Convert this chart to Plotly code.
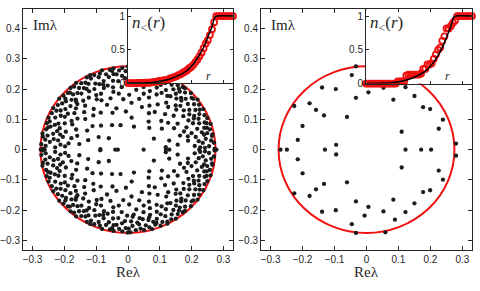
import numpy as np
import plotly.graph_objects as go

# ---------------- data ----------------
circle_radius = 0.275

# left panel: real eigenvalues and lower-half complex eigenvalues (arg in degrees, |lambda|);
# the upper half is the complex-conjugate mirror
left_real_eigs = [-0.274, -0.262, -0.040, -0.032, 0.049, 0.119, 0.130, 0.224, 0.278]
left_lower_arg_deg = [
    180.6,181.9,182.7,183.8,184.4,185.9,186.3,187.2,188.5,189.1,183.1,186.9,181.3,188.0,
    190.4,191.2,192.5,193.1,194.6,195.3,196.8,197.4,198.9,199.5,192.0,195.9,198.2,194.0,196.3,191.6,
    200.7,201.5,202.9,203.6,204.8,205.4,206.7,207.9,208.6,209.7,202.2,206.1,208.1,204.2,
    210.3,211.4,212.1,213.7,214.2,215.6,216.4,217.9,218.5,219.3,212.8,216.9,219.8,214.9,211.9,
    220.5,221.3,222.8,223.4,224.7,225.2,226.6,227.1,228.4,229.6,221.9,224.1,226.0,228.9,225.8,223.0,
    230.8,231.6,232.9,233.5,234.3,235.7,236.2,237.6,238.8,239.4,231.2,234.9,237.0,238.1,
    240.2,241.5,242.1,243.6,244.8,245.3,246.7,247.4,248.9,249.6,242.9,246.0,248.2,244.2,241.0,
    250.6,251.3,252.7,253.2,254.5,255.9,256.4,257.8,258.3,259.7,252.0,255.1,257.1,253.8,259.1,250.1,
    260.4,261.8,262.3,263.9,264.5,265.6,266.2,267.7,268.4,269.3,261.1,264.9,267.0,269.8,
    270.5,271.7,272.4,273.2,274.8,275.3,276.9,277.5,278.6,279.2,271.2,274.1,276.2,278.0,273.8,
    280.8,281.4,282.6,283.3,284.7,285.5,286.1,287.9,288.4,289.6,281.9,285.0,287.3,283.9,289.1,286.6,
    290.3,291.6,292.2,293.8,294.4,295.7,296.3,297.5,298.1,299.4,291.0,294.9,298.7,296.9,
    300.6,301.2,302.7,303.4,304.9,305.6,306.3,307.8,308.5,309.2,302.0,304.1,307.1,305.0,309.8,
    310.4,311.5,312.1,313.6,314.3,315.8,316.6,317.2,318.7,319.5,311.9,314.9,317.9,313.0,316.0,319.0,
    320.7,321.3,322.9,323.5,324.2,325.8,326.4,327.6,328.3,329.7,322.1,325.0,328.9,327.0,
    330.5,331.8,332.4,333.1,334.7,335.3,336.9,337.4,338.2,339.6,331.2,334.0,336.1,338.8,333.6,
    340.6,341.9,342.5,343.3,344.8,345.4,346.2,347.7,348.9,349.3,341.2,344.1,347.0,348.4,343.9,346.8,
    350.3,351.7,352.8,353.4,354.6,355.2,356.7,357.5,358.6,359.4,351.1,354.0,356.0,358.1,
]
left_lower_mod = [
    0.268,0.229,0.259,0.273,0.213,0.247,0.188,0.262,0.236,0.271,0.198,0.154,0.087,0.222,
    0.257,0.274,0.241,0.219,0.266,0.231,0.204,0.255,0.270,0.244,0.182,0.166,0.226,0.129,0.262,0.209,
    0.263,0.235,0.271,0.217,0.252,0.194,0.268,0.239,0.226,0.259,0.176,0.143,0.201,0.101,
    0.272,0.248,0.223,0.265,0.238,0.207,0.257,0.274,0.231,0.252,0.189,0.168,0.213,0.136,0.071,
    0.259,0.270,0.242,0.219,0.266,0.233,0.251,0.198,0.272,0.245,0.185,0.227,0.157,0.214,0.262,0.116,
    0.268,0.236,0.255,0.274,0.211,0.246,0.264,0.228,0.258,0.193,0.172,0.149,0.239,0.095,
    0.250,0.271,0.226,0.262,0.241,0.203,0.268,0.234,0.256,0.217,0.183,0.162,0.131,0.273,0.206,
    0.266,0.239,0.274,0.221,0.258,0.247,0.196,0.269,0.232,0.253,0.178,0.141,0.211,0.084,0.264,0.229,
    0.272,0.251,0.228,0.263,0.207,0.244,0.270,0.236,0.259,0.218,0.187,0.167,0.126,0.274,
    0.261,0.273,0.237,0.252,0.215,0.267,0.243,0.199,0.264,0.229,0.181,0.155,0.106,0.249,0.222,
    0.270,0.234,0.256,0.212,0.265,0.241,0.273,0.226,0.251,0.205,0.171,0.191,0.147,0.078,0.262,0.233,
    0.258,0.246,0.271,0.224,0.262,0.237,0.203,0.268,0.249,0.215,0.184,0.160,0.137,0.274,
    0.267,0.230,0.254,0.273,0.216,0.245,0.264,0.196,0.257,0.238,0.176,0.150,0.221,0.113,0.269,
    0.251,0.270,0.227,0.260,0.239,0.209,0.272,0.247,0.219,0.263,0.189,0.165,0.141,0.098,0.233,0.201,
    0.265,0.241,0.274,0.218,0.256,0.233,0.268,0.206,0.249,0.261,0.182,0.154,0.225,0.127,
    0.272,0.236,0.253,0.213,0.266,0.244,0.222,0.270,0.198,0.257,0.178,0.161,0.089,0.240,0.231,
    0.262,0.273,0.228,0.250,0.207,0.266,0.239,0.255,0.217,0.270,0.186,0.170,0.133,0.244,0.258,0.193,
    0.268,0.247,0.224,0.263,0.236,0.271,0.210,0.255,0.242,0.272,0.191,0.157,0.119,0.227,
]

# right panel: real eigenvalues and lower-half complex eigenvalues (Re, Im)
right_real_eigs = [-0.269, -0.249, -0.130, 0.122, 0.171, 0.202]
right_lower_re = [-0.095, 0.280, -0.215, -0.200, -0.226, -0.178, -0.158, -0.133, -0.139, -0.096,
                  -0.061, -0.033, -0.046, -0.033, -0.006, 0.006, 0.053, 0.059, 0.089, 0.084,
                  0.110, 0.122, 0.150, 0.177, 0.199, 0.226, 0.239]
right_lower_im = [-0.016, -0.020, -0.032, -0.078, -0.144, -0.153, -0.131, -0.113, -0.205, -0.200,
                  -0.108, -0.171, -0.246, -0.275, -0.218, -0.189, -0.204, -0.273, -0.231, -0.165,
                  -0.059, -0.206, -0.177, -0.140, -0.134, -0.069, -0.099]

# theoretical cumulative distribution n_<(r) (black line in insets)
theory_r = [0.0, 0.080, 0.111, 0.132, 0.158, 0.184, 0.205, 0.226, 0.242, 0.252, 0.263, 0.273, 0.279, 0.33]
theory_n = [0.0, 0.010, 0.035, 0.060, 0.110, 0.180, 0.280, 0.430, 0.580, 0.700, 0.830, 0.980, 1.0, 1.0]

# radii at which the empirical n_<(r) is sampled (red markers)
cdf_r_grid = np.linspace(0.0, 0.33, 51)

xticks_main = [-0.3, -0.2, -0.1, 0, 0.1, 0.2, 0.3]
yticks_main = [-0.3, -0.2, -0.1, 0, 0.1, 0.2, 0.3, 0.4]
yticks_inset = [0, 0.5, 1]
xticks_inset = [0.1, 0.2, 0.3]

# ---------------- derived ----------------
mod = np.array(left_lower_mod)
arg = np.deg2rad(np.array(left_lower_arg_deg))
lre_low = mod * np.cos(arg)
lim_low = mod * np.sin(arg)
left_re = np.concatenate([left_real_eigs, lre_low, lre_low])
left_im = np.concatenate([np.zeros(len(left_real_eigs)), lim_low, -lim_low])

rre = np.array(right_lower_re)
rim = np.array(right_lower_im)
right_re = np.concatenate([right_real_eigs, rre, rre])
right_im = np.concatenate([np.zeros(len(right_real_eigs)), rim, -rim])


def empirical_cdf(re, im):
    r = np.abs(np.asarray(re) + 1j * np.asarray(im))
    return np.array([(r < g).mean() for g in cdf_r_grid])


left_cdf = empirical_cdf(left_re, left_im)
right_cdf = empirical_cdf(right_re, right_im)

# ---------------- figure ----------------
W, H = 480, 291
def px_x(p):
    return p / W
def px_y(p):
    return 1 - p / H

INK = '#262626'
DOT = '#1c1c1c'
RED = '#f01010'
tickfont = dict(family='Liberation Sans, Arial, sans-serif', size=10, color=INK)
serif = 'Liberation Serif, Times New Roman, serif'

fig = go.Figure()

fig.add_trace(go.Scatter(x=left_re, y=left_im, mode='markers',
                         marker=dict(size=4.3, color=DOT), xaxis='x', yaxis='y',
                         showlegend=False, hoverinfo='skip'))
fig.add_trace(go.Scatter(x=right_re, y=right_im, mode='markers',
                         marker=dict(size=4.3, color=DOT), xaxis='x2', yaxis='y2',
                         showlegend=False, hoverinfo='skip'))

for cdf, xa, ya in [(left_cdf, 'x3', 'y3'), (right_cdf, 'x4', 'y4')]:
    fig.add_trace(go.Scatter(x=cdf_r_grid, y=cdf, mode='markers',
                             marker=dict(symbol='circle-open', size=6, color=RED,
                                         line=dict(width=1.8, color=RED)),
                             xaxis=xa, yaxis=ya, cliponaxis=False,
                             showlegend=False, hoverinfo='skip'))
    fig.add_trace(go.Scatter(x=theory_r, y=theory_n, mode='lines',
                             line=dict(color='black', width=1.5, shape='spline', smoothing=0.6),
                             xaxis=xa, yaxis=ya, showlegend=False, hoverinfo='skip'))

main_common = dict(showgrid=False, zeroline=False, showline=True, linecolor=INK, linewidth=1,
                   mirror='ticks', ticks='inside', ticklen=4, tickcolor=INK, tickwidth=1,
                   tickfont=tickfont)
inset_common = dict(showgrid=False, zeroline=False, showline=True, linecolor=INK, linewidth=1,
                    mirror='ticks', ticks='inside', ticklen=3, tickcolor=INK, tickwidth=1,
                    tickfont=tickfont)

main_y_dom = [px_y(254), px_y(9.5)]
fig.update_layout(
    width=W, height=H, margin=dict(l=0, r=0, t=0, b=0),
    paper_bgcolor='white', plot_bgcolor='white',
    xaxis=dict(domain=[px_x(23), px_x(233)], range=[-0.33, 0.33], anchor='y',
               tickvals=xticks_main, **main_common),
    yaxis=dict(domain=main_y_dom, range=[-0.33, 0.463], anchor='x',
               tickvals=yticks_main, **main_common),
    xaxis2=dict(domain=[px_x(261), px_x(472)], range=[-0.33, 0.33], anchor='y2',
                tickvals=xticks_main, **main_common),
    yaxis2=dict(domain=main_y_dom, range=[-0.33, 0.463], anchor='x2',
                tickvals=yticks_main, **main_common),
    xaxis3=dict(domain=[px_x(128), px_x(233)], range=[0, 0.33], anchor='y3',
                tickvals=xticks_inset, showticklabels=False, **inset_common),
    yaxis3=dict(domain=[px_y(84.5), px_y(9.5)], range=[0, 1.1], anchor='x3',
                tickvals=yticks_inset, ticktext=['0', '0.5', '1'], **inset_common),
    xaxis4=dict(domain=[px_x(366), px_x(472)], range=[0, 0.33], anchor='y4',
                tickvals=xticks_inset, showticklabels=False, **inset_common),
    yaxis4=dict(domain=[px_y(85), px_y(9.5)], range=[0, 1.1], anchor='x4',
                tickvals=yticks_inset, ticktext=['0', '0.5', '1'], **inset_common),
)

shapes = []
for xr, yr in [('x', 'y'), ('x2', 'y2')]:
    shapes.append(dict(type='circle', xref=xr, yref=yr, layer='below',
                       x0=-circle_radius, x1=circle_radius,
                       y0=-circle_radius, y1=circle_radius,
                       line=dict(color=RED, width=2)))
fig.update_layout(shapes=shapes)

ann = []
for xd, yd in [('x domain', 'y domain'), ('x2 domain', 'y2 domain')]:
    ann.append(dict(text='Im\u03bb', xref=xd, yref=yd, x=0.04, y=0.935,
                    xanchor='left', yanchor='middle', showarrow=False,
                    font=dict(family=serif, size=15, color=INK)))
    ann.append(dict(text='Re\u03bb', xref=xd, yref='paper', x=0.5, y=px_y(277),
                    xanchor='center', yanchor='middle', showarrow=False,
                    font=dict(family=serif, size=15, color=INK)))
for xd, yd in [('x3 domain', 'y3 domain'), ('x4 domain', 'y4 domain')]:
    ann.append(dict(text='<i>n</i><sub>&lt;</sub>(<i>r</i>)', xref=xd, yref=yd, x=0.02, y=0.80,
                    xanchor='left', yanchor='middle', showarrow=False,
                    font=dict(family=serif, size=17, color=INK)))
    ann.append(dict(text='<i>r</i>', xref=xd, yref=yd, x=0.77, y=0.10,
                    xanchor='center', yanchor='middle', showarrow=False,
                    font=dict(family=serif, size=12, color=INK)))
fig.update_layout(annotations=ann)

fig.write_html('out.html', config={'displayModeBar': False})
with open('out.html', encoding='utf-8') as f:
    html = f.read()
html = html.replace('<body>', '<body style="margin:0;padding:0;">', 1)
with open('out.html', 'w', encoding='utf-8') as f:
    f.write(html)
